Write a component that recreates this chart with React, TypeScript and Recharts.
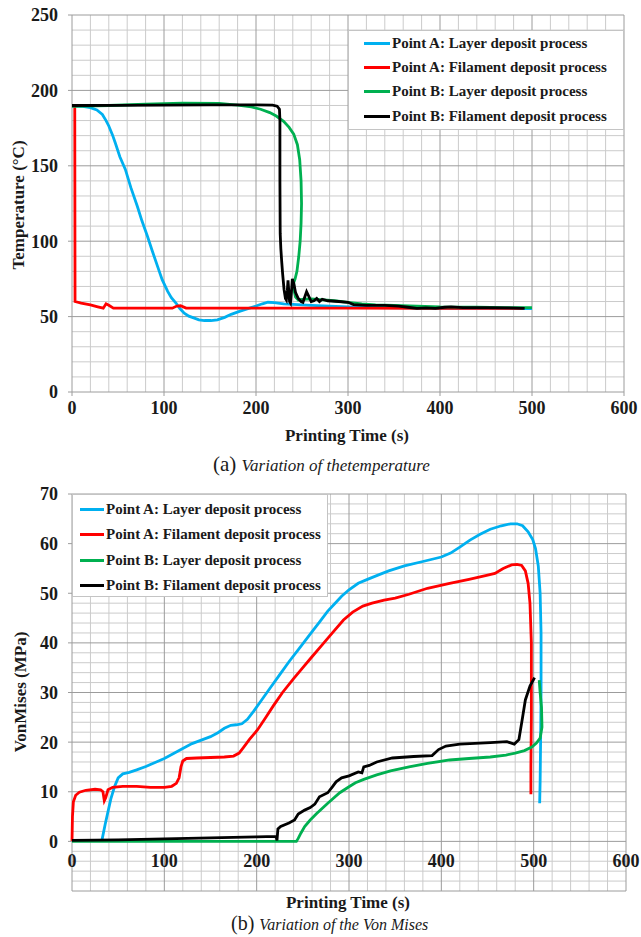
import React from 'react';
import { LineChart, Line, XAxis, YAxis, ReferenceLine, ReferenceDot, Legend } from 'recharts';

type Pt = { t: number; v: number };

// ---- (a) temperature, deg C vs printing time, s ----
const tempLayerA: Pt[] = [
  { t: 0, v: 189.7 }, { t: 10, v: 189.5 }, { t: 20, v: 188.6 }, { t: 27, v: 187 }, { t: 33, v: 184 },
  { t: 37, v: 180 }, { t: 40, v: 176.4 }, { t: 44, v: 170.5 }, { t: 47, v: 165.3 }, { t: 52, v: 156 },
  { t: 58, v: 147.6 }, { t: 64, v: 135.5 }, { t: 71, v: 123.2 }, { t: 76, v: 113.5 }, { t: 82, v: 103.3 },
  { t: 87, v: 94 }, { t: 93, v: 83.3 }, { t: 98, v: 74.5 }, { t: 104, v: 66.7 }, { t: 108, v: 62.5 },
  { t: 113, v: 59 }, { t: 117, v: 55.5 }, { t: 122, v: 52.3 }, { t: 127, v: 50.3 }, { t: 133, v: 49 },
  { t: 138, v: 47.8 }, { t: 144, v: 47.4 }, { t: 151, v: 47.4 }, { t: 158, v: 47.9 }, { t: 166, v: 49.5 },
  { t: 173, v: 51.5 }, { t: 182, v: 53.5 }, { t: 192, v: 55.5 }, { t: 200, v: 57 }, { t: 207, v: 58.5 },
  { t: 213, v: 59.5 }, { t: 220, v: 59.3 }, { t: 230, v: 58.5 }, { t: 245, v: 58 }, { t: 260, v: 57.5 },
  { t: 280, v: 57 }, { t: 300, v: 56.5 }, { t: 330, v: 56 }, { t: 360, v: 55.8 }, { t: 400, v: 55.5 },
  { t: 450, v: 55.3 }, { t: 500, v: 55.3 },
];

const tempFilamentA: Pt[] = [
  { t: 0, v: 189.8 }, { t: 3, v: 189.8 }, { t: 3.3, v: 60 }, { t: 10, v: 59 }, { t: 20, v: 57.7 },
  { t: 28, v: 56.5 }, { t: 34, v: 55.6 }, { t: 37, v: 58.5 }, { t: 40, v: 57.5 }, { t: 45, v: 55.6 },
  { t: 80, v: 55.6 }, { t: 109, v: 55.6 }, { t: 114, v: 57 }, { t: 118, v: 57.2 }, { t: 124, v: 55.6 },
  { t: 200, v: 55.6 }, { t: 300, v: 55.6 }, { t: 400, v: 55.5 }, { t: 490, v: 55.5 },
];

const tempLayerB: Pt[] = [
  { t: 0, v: 189.5 }, { t: 40, v: 190 }, { t: 80, v: 190.8 }, { t: 120, v: 191.5 }, { t: 160, v: 191.3 },
  { t: 180, v: 190.3 }, { t: 195, v: 189 }, { t: 205, v: 187.5 }, { t: 215, v: 185.3 }, { t: 222, v: 183 },
  { t: 230, v: 179.5 }, { t: 236, v: 175.5 }, { t: 241, v: 171 }, { t: 245, v: 164 }, { t: 247.5, v: 154 },
  { t: 249, v: 140 }, { t: 249.5, v: 125 }, { t: 249, v: 112 }, { t: 248, v: 100 }, { t: 246.5, v: 90 },
  { t: 244.5, v: 80 }, { t: 242.5, v: 75 }, { t: 241, v: 72.5 }, { t: 241.5, v: 67 }, { t: 243, v: 63 },
  { t: 246, v: 61 }, { t: 252, v: 61.5 }, { t: 260, v: 61.8 }, { t: 270, v: 61.3 }, { t: 285, v: 60.5 },
  { t: 300, v: 59.5 }, { t: 315, v: 58.5 }, { t: 330, v: 57.8 }, { t: 350, v: 57.5 }, { t: 375, v: 57 },
  { t: 400, v: 56.5 }, { t: 440, v: 56.3 }, { t: 470, v: 56 }, { t: 500, v: 56 },
];

const tempFilamentB: Pt[] = [
  { t: 0, v: 190 }, { t: 50, v: 190.1 }, { t: 100, v: 190.3 }, { t: 150, v: 190.4 }, { t: 200, v: 190.4 },
  { t: 218, v: 190.2 }, { t: 223, v: 189.5 }, { t: 225.5, v: 187.5 }, { t: 226, v: 180 }, { t: 226, v: 140 },
  { t: 226.3, v: 105 }, { t: 227, v: 95 }, { t: 228, v: 86 }, { t: 229, v: 78 }, { t: 230.5, v: 68 },
  { t: 232, v: 62 }, { t: 233, v: 61 }, { t: 234, v: 67 }, { t: 234.8, v: 74 }, { t: 235.5, v: 68 },
  { t: 236.5, v: 60 }, { t: 237.5, v: 59 }, { t: 238.5, v: 66 }, { t: 239.5, v: 75 }, { t: 241, v: 72 },
  { t: 243, v: 66 }, { t: 246, v: 62 }, { t: 249, v: 60 }, { t: 251, v: 59.5 }, { t: 253, v: 63 },
  { t: 255, v: 66.5 }, { t: 257, v: 64 }, { t: 260, v: 60 }, { t: 263, v: 60.5 }, { t: 266, v: 62 },
  { t: 269, v: 60 }, { t: 272, v: 61.5 }, { t: 278, v: 60.5 }, { t: 290, v: 60 }, { t: 300, v: 59.5 },
  { t: 306, v: 58 }, { t: 320, v: 57.5 }, { t: 340, v: 57.5 }, { t: 355, v: 57 }, { t: 365, v: 56.2 },
  { t: 375, v: 55.5 }, { t: 385, v: 55.8 }, { t: 395, v: 55.5 }, { t: 405, v: 56.2 }, { t: 412, v: 56.5 },
  { t: 425, v: 56 }, { t: 450, v: 56 }, { t: 475, v: 55.8 }, { t: 492, v: 55.5 },
];

// ---- (b) von Mises stress, MPa vs printing time, s ----
const vmLayerA: Pt[] = [
  { t: 32.5, v: 0.3 }, { t: 36, v: 3.5 }, { t: 39, v: 6 }, { t: 42, v: 8.5 }, { t: 46, v: 11 },
  { t: 50, v: 12.8 }, { t: 55, v: 13.6 }, { t: 62, v: 13.9 }, { t: 70, v: 14.4 }, { t: 80, v: 15.1 },
  { t: 90, v: 15.9 }, { t: 100, v: 16.7 }, { t: 110, v: 17.7 }, { t: 120, v: 18.7 }, { t: 130, v: 19.7 },
  { t: 140, v: 20.4 }, { t: 150, v: 21.1 }, { t: 158, v: 21.9 }, { t: 165, v: 22.8 }, { t: 172, v: 23.4 },
  { t: 178, v: 23.5 }, { t: 184, v: 23.7 }, { t: 190, v: 24.6 }, { t: 197, v: 26.3 }, { t: 205, v: 28.4 },
  { t: 215, v: 31 }, { t: 225, v: 33.6 }, { t: 235, v: 36.2 }, { t: 247, v: 39.1 }, { t: 259, v: 42 },
  { t: 268, v: 44.2 }, { t: 277, v: 46.4 }, { t: 285, v: 48 }, { t: 292, v: 49.4 }, { t: 300, v: 50.7 },
  { t: 310, v: 52 }, { t: 320, v: 52.8 }, { t: 332, v: 53.7 }, { t: 343, v: 54.5 }, { t: 360, v: 55.5 },
  { t: 380, v: 56.4 }, { t: 400, v: 57.3 }, { t: 410, v: 58.1 }, { t: 420, v: 59.3 }, { t: 431, v: 60.7 },
  { t: 442, v: 61.9 }, { t: 453, v: 62.9 }, { t: 465, v: 63.6 }, { t: 475, v: 64 }, { t: 482, v: 64 },
  { t: 488, v: 63.6 }, { t: 494, v: 62.4 }, { t: 499, v: 60.8 }, { t: 502, v: 59 }, { t: 505, v: 55.5 },
  { t: 507, v: 50 }, { t: 508, v: 42 }, { t: 508, v: 30 }, { t: 507.5, v: 20 }, { t: 507, v: 12 },
  { t: 506.5, v: 7.7 },
];

const vmFilamentA: Pt[] = [
  { t: 0, v: 0 }, { t: 0.5, v: 5 }, { t: 1.5, v: 8 }, { t: 4, v: 9.3 }, { t: 8, v: 9.9 },
  { t: 15, v: 10.3 }, { t: 25, v: 10.5 }, { t: 31, v: 10.4 }, { t: 33.5, v: 10 }, { t: 35, v: 8.2 },
  { t: 36.5, v: 8.8 }, { t: 39, v: 10.4 }, { t: 44, v: 10.9 }, { t: 55, v: 11.1 }, { t: 70, v: 11.1 },
  { t: 85, v: 10.9 }, { t: 100, v: 10.9 }, { t: 108, v: 11.1 }, { t: 113, v: 11.7 }, { t: 116, v: 12.8 },
  { t: 118, v: 15 }, { t: 120, v: 16.2 }, { t: 124, v: 16.7 }, { t: 135, v: 16.8 }, { t: 150, v: 16.9 },
  { t: 165, v: 17 }, { t: 175, v: 17.2 }, { t: 181, v: 17.8 }, { t: 186, v: 19 }, { t: 192, v: 20.5 },
  { t: 201, v: 22.5 }, { t: 210, v: 25 }, { t: 218, v: 27.3 }, { t: 228, v: 30 }, { t: 240, v: 32.8 },
  { t: 250, v: 35 }, { t: 259, v: 37 }, { t: 270, v: 39.4 }, { t: 282, v: 42 }, { t: 294, v: 44.6 },
  { t: 304, v: 46.2 }, { t: 315, v: 47.4 }, { t: 325, v: 48 }, { t: 338, v: 48.6 }, { t: 350, v: 49 },
  { t: 365, v: 49.8 }, { t: 385, v: 51 }, { t: 409, v: 52 }, { t: 430, v: 52.8 }, { t: 449, v: 53.6 },
  { t: 458, v: 54 }, { t: 467, v: 55 }, { t: 476, v: 55.7 }, { t: 482, v: 55.8 }, { t: 487, v: 55.6 },
  { t: 491, v: 54.5 }, { t: 494, v: 52 }, { t: 496, v: 48 }, { t: 497.5, v: 40 }, { t: 497.5, v: 25 },
  { t: 497, v: 15 }, { t: 497, v: 9.5 },
];

const vmLayerB: Pt[] = [
  { t: 0, v: 0 }, { t: 100, v: 0 }, { t: 200, v: 0 }, { t: 243, v: 0 }, { t: 245, v: 0.6 },
  { t: 248, v: 1.7 }, { t: 252, v: 3 }, { t: 258, v: 4.3 }, { t: 265, v: 5.6 }, { t: 277, v: 7.7 },
  { t: 290, v: 9.8 }, { t: 300, v: 11 }, { t: 307, v: 11.8 }, { t: 316, v: 12.5 }, { t: 330, v: 13.4 },
  { t: 345, v: 14.2 }, { t: 365, v: 15 }, { t: 385, v: 15.7 }, { t: 409, v: 16.4 }, { t: 430, v: 16.7 },
  { t: 453, v: 17 }, { t: 470, v: 17.4 }, { t: 480, v: 17.8 }, { t: 490, v: 18.3 }, { t: 498, v: 19 },
  { t: 503, v: 19.8 }, { t: 507, v: 20.8 }, { t: 509, v: 23 }, { t: 508.5, v: 27 }, { t: 507, v: 30 },
  { t: 506, v: 32.5 },
];

const vmFilamentB: Pt[] = [
  { t: 0, v: 0.2 }, { t: 50, v: 0.3 }, { t: 100, v: 0.5 }, { t: 150, v: 0.7 }, { t: 200, v: 0.9 },
  { t: 221, v: 1 }, { t: 222, v: 0.2 }, { t: 223, v: 2.5 }, { t: 226, v: 3 }, { t: 235, v: 3.7 },
  { t: 241, v: 4.3 }, { t: 245, v: 5.5 }, { t: 252, v: 6.3 }, { t: 258, v: 6.8 }, { t: 263, v: 7.5 },
  { t: 268, v: 9 }, { t: 277, v: 9.8 }, { t: 282, v: 11 }, { t: 286, v: 12 }, { t: 292, v: 12.8 },
  { t: 300, v: 13.2 }, { t: 310, v: 14 }, { t: 314, v: 13.8 }, { t: 316, v: 15 }, { t: 322, v: 15.3 },
  { t: 330, v: 16 }, { t: 347, v: 16.8 }, { t: 370, v: 17.1 }, { t: 390, v: 17.3 }, { t: 397, v: 18.5 },
  { t: 405, v: 19.2 }, { t: 420, v: 19.6 }, { t: 453, v: 19.9 }, { t: 471, v: 20.1 }, { t: 479, v: 19.6 },
  { t: 484, v: 20.5 }, { t: 488, v: 25 }, { t: 491, v: 28.5 }, { t: 496, v: 31.3 }, { t: 501, v: 33 },
];

const seriesNames = [
  'Point A: Layer deposit process',
  'Point A: Filament deposit process',
  'Point B: Layer deposit process',
  'Point B: Filament deposit process',
];
const seriesColors = ['#00B0F0', '#FF0000', '#00B050', '#000000'];

const timeTicks = [0, 100, 200, 300, 400, 500, 600];
const tempTicks = [0, 50, 100, 150, 200, 250];
const vmTicks = [-10, 0, 10, 20, 30, 40, 50, 60, 70];

const serif = "'Liberation Serif', 'Times New Roman', serif";
const minorColor = '#cbcbcb';
const majorColor = '#9c9c9c';

const range = (from: number, to: number, step: number) => {
  const out: number[] = [];
  for (let v = from; v <= to + 1e-9; v += step) out.push(Math.round(v * 100) / 100);
  return out;
};

const gridLines = (xs: number[], ys: number[], color: string, key: string) => [
  ...xs.map((x) => <ReferenceLine key={`${key}x${x}`} x={x} stroke={color} strokeWidth={1} />),
  ...ys.map((y) => <ReferenceLine key={`${key}y${y}`} y={y} stroke={color} strokeWidth={1} />),
];

const tickStyle = { fontSize: 18, fontWeight: 'bold', fill: '#1a1a1a', fontFamily: serif };

// legend keeps the series order (recharts sorts the payload by name otherwise)
const legendContent = (rowHeight: number, swatchLeft: number, swatchWidth: number, padTop: number) =>
  (props: any) => {
    const items = [...(props.payload || [])].sort(
      (a: any, b: any) => seriesNames.indexOf(a.value) - seriesNames.indexOf(b.value)
    );
    return (
      <div style={{ paddingTop: padTop }}>
        {items.map((e: any) => (
          <div key={e.value} style={{ height: rowHeight, display: 'flex', alignItems: 'center', whiteSpace: 'nowrap' }}>
            <span style={{ display: 'inline-block', marginLeft: swatchLeft, width: swatchWidth, height: 3, background: e.color }} />
            <span style={{ marginLeft: 2, fontFamily: serif, fontWeight: 'bold', fontSize: 15, color: '#1a1a1a' }}>{e.value}</span>
          </div>
        ))}
      </div>
    );
  };

const seriesLines = (sets: Pt[][]) =>
  sets.map((d, i) => (
    <Line
      key={seriesNames[i]}
      data={d}
      dataKey="v"
      name={seriesNames[i]}
      type="linear"
      stroke={seriesColors[i]}
      strokeWidth={2.8}
      dot={false}
      isAnimationActive={false}
    />
  ));

const absText = (style: React.CSSProperties, children: React.ReactNode) => (
  <div style={{ position: 'absolute', whiteSpace: 'nowrap', fontFamily: serif, color: '#1a1a1a', lineHeight: 1, ...style }}>{children}</div>
);

export default function App() {
  const minorX = range(0, 600, 20).filter((v) => v % 100 !== 0);
  return (
    <div style={{ position: 'absolute', left: 0, top: 0, width: 641, height: 937, background: '#fff', overflow: 'hidden' }}>
      {/* (a) temperature */}
      <div style={{ position: 'absolute', left: 0, top: 0 }}>
        <LineChart width={641} height={425} margin={{ top: 15, right: 17, bottom: 3, left: 12 }}>
          <XAxis
            dataKey="t"
            type="number"
            domain={[0, 600]}
            ticks={timeTicks}
            height={30}
            axisLine={false}
            tickLine={{ stroke: majorColor }}
            tickSize={4}
            tickMargin={5}
            tick={tickStyle}
          />
          <YAxis
            type="number"
            domain={[0, 250]}
            ticks={tempTicks}
            width={60}
            axisLine={false}
            tickLine={{ stroke: majorColor }}
            tickSize={4}
            tickMargin={10}
            tick={tickStyle}
          />
          {gridLines(minorX, range(0, 250, 10).filter((v) => v % 50 !== 0), minorColor, 'tn')}
          {gridLines(timeTicks, tempTicks, majorColor, 'tj')}
          {seriesLines([tempLayerA, tempFilamentA, tempLayerB, tempFilamentB])}
          <Legend
            layout="vertical"
            align="center"
            verticalAlign="middle"
            wrapperStyle={{ left: 348, top: 30, width: 276, height: 100, background: '#fff', border: '1px solid #c4c4c4', boxSizing: 'border-box' }}
            content={legendContent(24.3, 15, 26, 0)}
          />
        </LineChart>
      </div>
      {absText({ left: 18, top: 205, fontSize: 17, fontWeight: 'bold', transform: 'translate(-50%, -50%) rotate(-90deg)' }, 'Temperature (°C)')}
      {absText({ left: 347, top: 435, fontSize: 17, fontWeight: 'bold', transform: 'translate(-50%, -50%)' }, 'Printing Time (s)')}
      {absText({ left: 213, top: 454, fontSize: 21 }, (
        <span>(a) <i style={{ fontSize: 17 }}>Variation of thetemperature</i></span>
      ))}

      {/* (b) von Mises */}
      <div style={{ position: 'absolute', left: 0, top: 480 }}>
        <LineChart width={641} height={420} margin={{ top: 14, right: 15, bottom: 9, left: 12 }}>
          <XAxis dataKey="t" type="number" domain={[0, 600]} ticks={timeTicks} hide />
          <YAxis
            type="number"
            domain={[-10, 70]}
            ticks={vmTicks}
            width={60}
            axisLine={false}
            tickLine={{ stroke: majorColor }}
            tickSize={4}
            tickMargin={10}
            tick={tickStyle}
          />
          {gridLines(minorX, range(-10, 70, 2).filter((v) => v % 10 !== 0), minorColor, 'vn')}
          {gridLines(timeTicks, vmTicks, majorColor, 'vj')}
          {seriesLines([vmLayerA, vmFilamentA, vmLayerB, vmFilamentB])}
          {timeTicks.map((t) => (
            <ReferenceDot
              key={`lbl${t}`}
              x={t}
              y={0}
              r={0}
              fill="none"
              stroke="none"
              label={{ value: t, position: 'bottom', offset: 13, ...tickStyle }}
            />
          ))}
          <Legend
            layout="vertical"
            align="center"
            verticalAlign="middle"
            wrapperStyle={{ left: 72, top: 14, width: 256, height: 103, background: '#fff', border: '1px solid #c4c4c4', boxSizing: 'border-box' }}
            content={legendContent(25.3, 7, 24, 2)}
          />
        </LineChart>
      </div>
      {absText({ left: 20, top: 692, fontSize: 17, fontWeight: 'bold', transform: 'translate(-50%, -50%) rotate(-90deg)' }, 'VonMises (MPa)')}
      {absText({ left: 348, top: 902, fontSize: 17, fontWeight: 'bold', transform: 'translate(-50%, -50%)' }, 'Printing Time (s)')}
      {absText({ left: 231, top: 913, fontSize: 20 }, (
        <span>(b) <i style={{ fontSize: 16 }}>Variation of the Von Mises</i></span>
      ))}
    </div>
  );
}
